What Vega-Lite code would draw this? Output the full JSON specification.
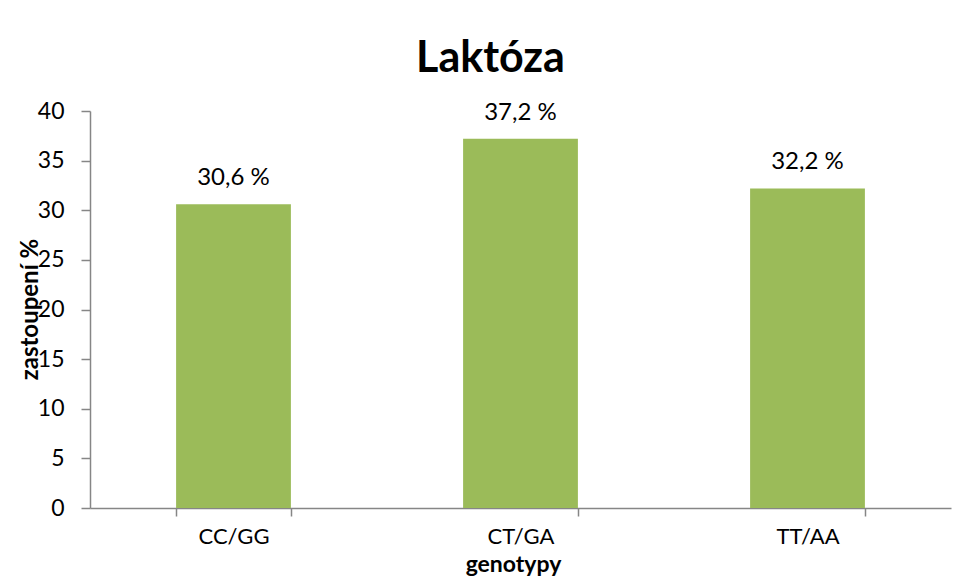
{
  "$schema": "https://vega.github.io/schema/vega-lite/v6.json",
  "autosize": {"type": "none"},
  "padding": {"left": 90, "top": 111, "right": 2, "bottom": 69},
  "width": 861,
  "height": 397,
  "background": "white",
  "title": {
    "text": "Laktóza",
    "font": "Lato",
    "fontSize": 43,
    "fontWeight": "bold",
    "color": "black",
    "anchor": "middle",
    "frame": "group",
    "dx": -30,
    "offset": 19
  },
  "data": {
    "values": [
      {"genotyp": "CC/GG", "zastoupeni": 30.6, "label": "30,6 %"},
      {"genotyp": "CT/GA", "zastoupeni": 37.2, "label": "37,2 %"},
      {"genotyp": "TT/AA", "zastoupeni": 32.2, "label": "32,2 %"}
    ]
  },
  "encoding": {
    "x": {
      "field": "genotyp",
      "type": "nominal",
      "sort": null,
      "scale": {"paddingInner": 0.6, "paddingOuter": 0.3},
      "axis": {
        "title": "genotypy",
        "labelAngle": 0,
        "tickBand": "extent",
        "tickSize": 8,
        "tickColor": "#868686",
        "domainColor": "#868686",
        "tickWidth": 1.5,
        "domainWidth": 1.5,
        "labelFont": "Lato",
        "labelFontSize": 22,
        "labelColor": "black",
        "labelPadding": 10,
        "titleFont": "Lato",
        "titleFontSize": 23,
        "titleFontWeight": "bold",
        "titleColor": "black",
        "titleBaseline": "alphabetic",
        "titleY": 63,
        "titleX": 423
      }
    },
    "y": {
      "field": "zastoupeni",
      "type": "quantitative",
      "scale": {"domain": [0, 40], "nice": false},
      "axis": {
        "title": "zastoupení %",
        "values": [0, 5, 10, 15, 20, 25, 30, 35, 40],
        "grid": false,
        "tickSize": 9,
        "tickColor": "#868686",
        "domainColor": "#868686",
        "tickWidth": 1.5,
        "domainWidth": 1.5,
        "labelFont": "Lato",
        "labelFontSize": 23,
        "labelColor": "black",
        "labelPadding": 17,
        "titleFont": "Lato",
        "titleFontSize": 24,
        "titleFontWeight": "bold",
        "titleColor": "black",
        "titleBaseline": "alphabetic",
        "titleX": -53,
        "titleY": 198
      }
    }
  },
  "layer": [
    {"mark": {"type": "bar", "color": "#9BBB59"}},
    {
      "mark": {"type": "text", "font": "Lato", "fontSize": 24, "color": "black", "baseline": "alphabetic", "dy": -19},
      "encoding": {"text": {"field": "label"}}
    }
  ],
  "config": {"view": {"stroke": null}}
}
